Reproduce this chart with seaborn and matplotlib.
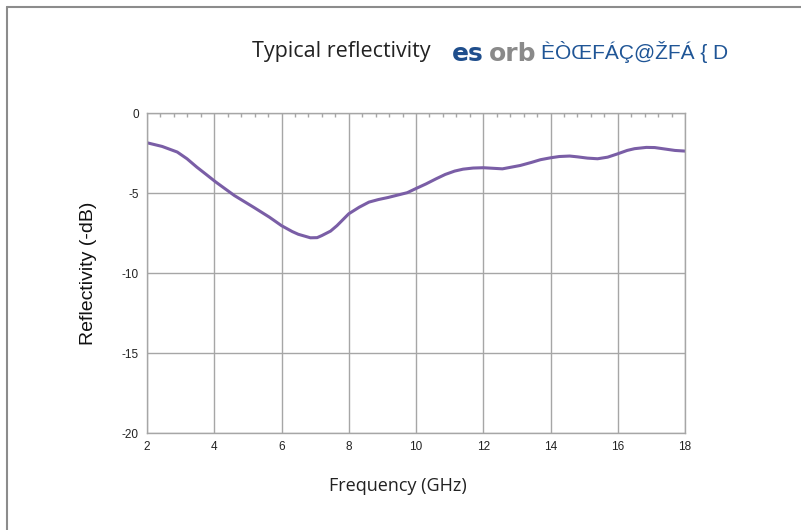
import numpy as np
import pandas as pd
import matplotlib
matplotlib.use('Agg')
import matplotlib.pyplot as plt
import seaborn as sns
from matplotlib.lines import Line2D

# Values
freq_ghz = [2.0, 2.45, 2.9, 3.19, 3.48, 3.76, 4.05, 4.6, 5.17, 5.64, 6.0, 6.32, 6.5, 6.86,
            7.06, 7.2, 7.46, 7.65, 8.0, 8.31, 8.6, 8.88, 9.17, 9.74, 10.0, 10.3, 10.6,
            10.87, 11.15, 11.4, 11.7, 12.0, 12.57, 13.1, 13.43, 13.7, 14.0, 14.26, 14.57,
            14.8, 15.1, 15.4, 15.7, 16.0, 16.28, 16.5, 16.85, 17.1, 17.4, 17.7, 18.0]
reflectivity_db = [-1.86, -2.09, -2.44, -2.86, -3.38, -3.84, -4.32, -5.16, -5.89, -6.51, -7.04,
                   -7.41, -7.58, -7.8, -7.79, -7.66, -7.38, -7.04, -6.3, -5.89, -5.57, -5.41,
                   -5.28, -4.98, -4.72, -4.43, -4.11, -3.84, -3.63, -3.51, -3.44, -3.42, -3.49,
                   -3.28, -3.09, -2.92, -2.8, -2.72, -2.69, -2.74, -2.82, -2.86, -2.76, -2.55,
                   -2.34, -2.23, -2.15, -2.16, -2.25, -2.34, -2.38]
x_ticks = [2, 4, 6, 8, 10, 12, 14, 16, 18]
y_ticks = [0, -5, -10, -15, -20]

df = pd.DataFrame({'freq': freq_ghz, 'refl': reflectivity_db})

sns.set_style('white')
fig = plt.figure(figsize=(8.01, 5.30), dpi=100)
ax = fig.add_axes([147 / 801, 97 / 530, 538 / 801, 320 / 530])

sns.lineplot(data=df, x='freq', y='refl', ax=ax, color='#7a5ea6', linewidth=2.2)

ax.set_xlim(2, 18)
ax.set_ylim(-20, 0)
ax.set_xticks(x_ticks)
ax.set_yticks(y_ticks)
ax.set_xticklabels([str(t) for t in x_ticks], fontsize=8.5, family='Liberation Sans', color='#222222')
ax.set_yticklabels([str(t) for t in y_ticks], fontsize=8.5, family='Liberation Sans', color='#222222')
ax.tick_params(axis='both', length=0, pad=6)
ax.grid(True, color='#a6a6a6', linewidth=1.0)
for s in ['left', 'bottom', 'top', 'right']:
    ax.spines[s].set_color('#a6a6a6')
    ax.spines[s].set_linewidth(1.0)

# small minor marks along the top edge
ax.set_xticks(np.arange(2, 18.01, 0.4), minor=True)
ax.tick_params(axis='x', which='minor', top=True, bottom=False, direction='in', length=3,
               color='#a6a6a6', width=1)

ax.set_xlabel('Frequency (GHz)', fontsize=13, family='Open Sans', color='#222222')
ax.xaxis.set_label_coords((398 - 147) / 538, -(477 - 433) / 320, transform=ax.transAxes)
ax.set_ylabel('Reflectivity (-dB)', fontsize=14, family='Liberation Sans', color='#111111', labelpad=18)

# title pieces
ty = 1 - 52 / 530
fig.text(252 / 801, ty, 'Typical reflectivity', fontsize=15.5, family='Open Sans',
         color='#222222', va='center', ha='left')
fig.text(452 / 801, ty - 0.004, 'es', fontsize=18, family='DejaVu Sans', weight='bold',
         color='#1f4e8c', va='center', ha='left')
fig.text(489 / 801, ty - 0.004, 'orb', fontsize=18, family='DejaVu Sans', weight='bold',
         color='#8a8a8a', va='center', ha='left')
fig.text(541 / 801, ty, 'ÈÒŒFÁÇ@ŽFÁ { D', fontsize=15, family='Liberation Sans',
         color='#1f5596', va='center', ha='left')

# page frame lines
fig.add_artist(Line2D([7 / 801, 1], [1 - 7 / 530, 1 - 7 / 530], transform=fig.transFigure,
                      color='#8c8c8c', linewidth=1.5))
fig.add_artist(Line2D([7 / 801, 7 / 801], [0, 1 - 7 / 530], transform=fig.transFigure,
                      color='#8c8c8c', linewidth=1.5))

fig.savefig('out.png', dpi=100)
